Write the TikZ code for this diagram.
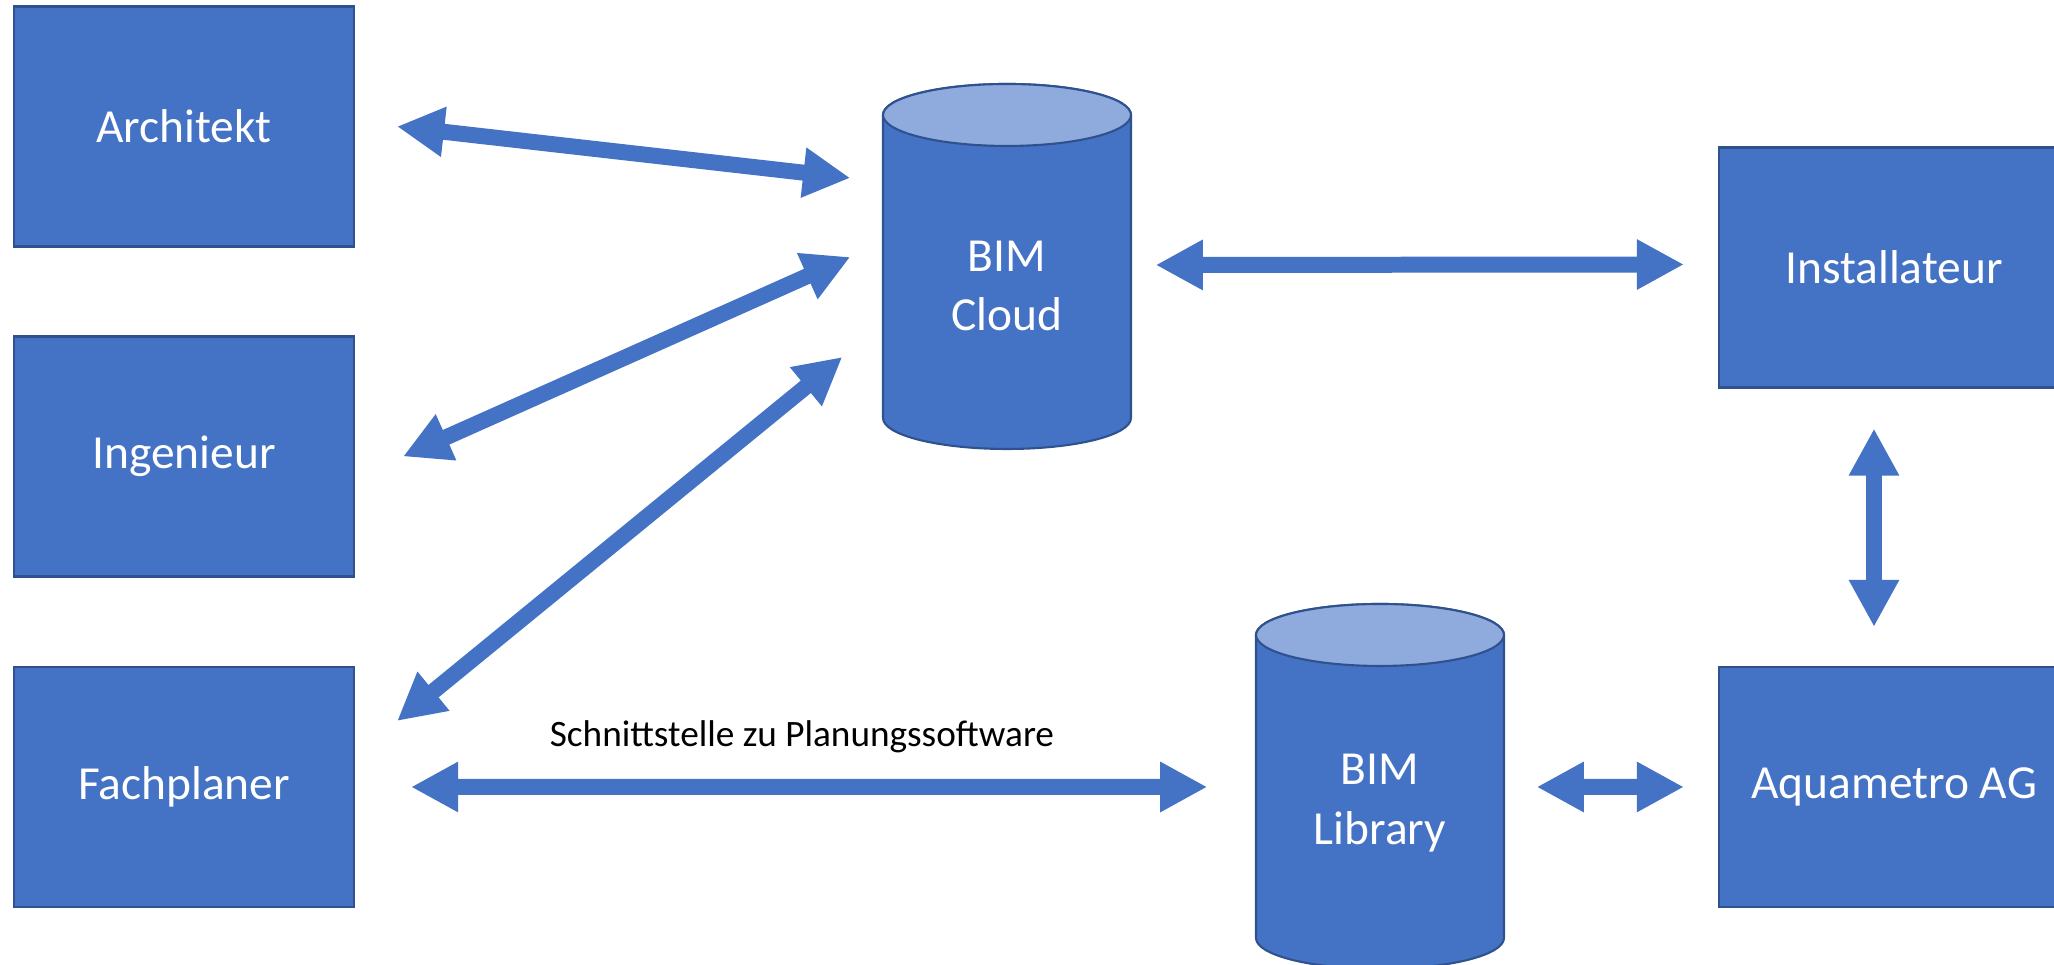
\documentclass[tikz,border=0pt]{standalone}
\usepackage{fontspec}
\setmainfont{Carlito}
\usepackage{xcolor}
\usepackage{tikz}
\usetikzlibrary{arrows.meta}

\definecolor{boxblue}{HTML}{4472C4}
\definecolor{edgeblue}{HTML}{2F528F}
\definecolor{topblue}{HTML}{8FAADC}

\begin{document}
\begin{tikzpicture}[
    party/.style={draw=edgeblue, line width=0.6pt, fill=boxblue, text=white,
        minimum width=3.4cm, minimum height=2.4cm, inner sep=0pt,
        font=\fontsize{13.5}{17}\selectfont},
    store/.style={text=white, align=center, minimum width=2.48cm, inner sep=0pt,
        font=\fontsize{13.5}{17}\selectfont},
    cylbody/.style={draw=edgeblue, line width=0.6pt, fill=boxblue},
    cyltop/.style={draw=edgeblue, line width=0.6pt, fill=topblue},
    biarrow/.style={draw=boxblue, line width=4.55pt,
        {Triangle[width=13.4pt,length=13.4pt]}-{Triangle[width=13.4pt,length=13.4pt]}}
  ]
             \useasboundingbox (0,0) rectangle (20.54,9.65);

             % the cylinders
             \draw[cylbody] (8.83,8.50) -- (8.83,5.47) arc (180:360:1.24 and 0.31)
                 -- (11.31,8.50) arc (0:180:1.24 and 0.31) -- cycle;
             \draw[cyltop] (10.07,8.50) ellipse (1.24 and 0.31);

             \draw[cylbody] (12.56,3.30) -- (12.56,0.27) arc (180:360:1.24 and 0.31)
                 -- (15.04,3.30) arc (0:180:1.24 and 0.31) -- cycle;
             \draw[cyltop] (13.80,3.30) ellipse (1.24 and 0.31);

             \node[party] (arch) at (1.84, 8.385) {Architekt};
             \node[party] (ing) at (1.84, 5.085) {Ingenieur};
             \node[party] (fach) at (1.84, 1.78) {Fachplaner};
             % right column runs off the page edge
             \node[party, minimum width=3.5cm] (inst) at (18.94, 6.975) {Installateur};
             \node[party, minimum width=3.5cm] (aqua) at (18.94, 1.78) {Aquametro AG};

             \node[store] (cloud) at (10.07, 6.79) {BIM\\Cloud};
             \node[store] (lib) at (13.80, 1.62) {BIM\\Library};

             \node[font=\fontsize{10.6}{13}\selectfont] (iface) at (8.02, 2.28)
                 {Schnittstelle zu Planungssoftware};

             \draw[biarrow] ([xshift=0.42cm]arch.east) -- ([shift={(-0.32,1.08)}]cloud.west);
             \draw[biarrow] ([xshift=0.48cm]ing.east) -- ([shift={(-0.32,0.29)}]cloud.west);
             \draw[biarrow] ([shift={(0.42,0.66)}]fach.east) -- ([shift={(-0.40,-0.71)}]cloud.west);
             \draw[biarrow] ([shift={(0.24,0.21)}]cloud.east) -- ([shift={(-0.34,0.03)}]inst.west);
             \draw[biarrow] ([shift={(-0.20,-0.40)}]inst.south) -- ([shift={(-0.20,0.39)}]aqua.north);
             \draw[biarrow] ([xshift=0.56cm]fach.east) -- ([shift={(-0.48,0.16)}]lib.west);
             \draw[biarrow] ([shift={(0.32,0.16)}]lib.east) -- ([xshift=-0.34cm]aqua.west);

             \end{tikzpicture}
\end{document}
